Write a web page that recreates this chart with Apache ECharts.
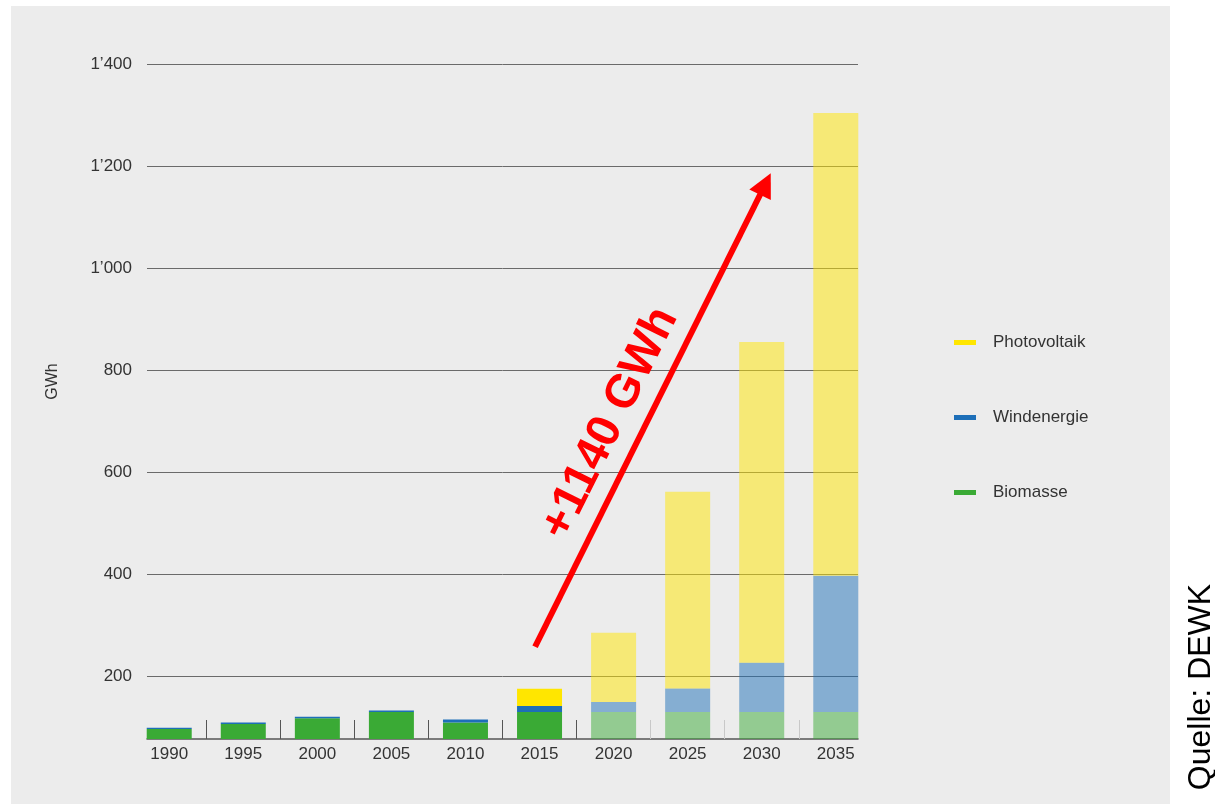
<!DOCTYPE html>
<html><head><meta charset="utf-8">
<script src="https://cdn.jsdelivr.net/npm/echarts@6/dist/echarts.min.js"></script>
<style>html,body{margin:0;padding:0;background:#fff}#c{width:1215px;height:804px}</style>
</head><body><div id="c"></div>
<script>
// ---- data ----
const years = ['1990','1995','2000','2005','2010','2015','2020','2025','2030','2035'];
const biomasse = [97.6, 107.4, 118.4, 130.9, 110.5, 130.9, 130.8, 130.8, 130.8, 130.8];
const windenergie = [2.6, 3.1, 3.3, 3.1, 5.9, 11.7, 19.6, 46.2, 96.4, 267];
const photovoltaik = [0, 0, 0, 0, 0, 33.9, 135.6, 385, 628.5, 906];
const yTicks = [200, 400, 600, 800, 1000, 1200, 1400];
const projectionStart = 6;               // first projected category index (drawn paler)
const arrowFrom = [4.94, 258.7];         // annotation arrow in data coordinates
const arrowTo = [8.05, 1165];
const arrowLabel = '+1140 GWh';
const sourceText = 'Quelle: DEWK';

const FONT = "'Liberation Sans', Arial, Helvetica, sans-serif";
const chart = echarts.init(document.getElementById('c'), null, {renderer: 'canvas'});

// value first (dimension 0 is the stacked one), category index second
function toData(vals) {
  return vals.map((v, i) => (i >= projectionStart
    ? {value: [v, i], itemStyle: {opacity: 0.5}}
    : {value: [v, i]}));
}
function fmtY(v) {
  if (v >= 1000) return Math.floor(v / 1000) + '\u2019' + String(v % 1000).padStart(3, '0');
  return String(v);
}
const labelIdx = years.map((_, i) => i);
const boundaries = years.slice(1).map((_, i) => i + 0.5);
const darkBounds = boundaries.filter(b => b < projectionStart);
const lightBounds = boundaries.filter(b => b > projectionStart);

function barSeries(name, color, vals) {
  return {name: name, type: 'bar', stack: 'total', barWidth: 45,
          encode: {x: 1, y: 0},
          itemStyle: {color: color}, emphasis: {disabled: true}, data: toData(vals)};
}

const option = {
  animation: false,
  backgroundColor: '#ffffff',
  textStyle: {fontFamily: FONT},
  grid: {left: 147, right: 357, top: 64, bottom: 65, containLabel: false},
  legend: {
    data: ['Photovoltaik', 'Windenergie', 'Biomasse'],
    orient: 'vertical', left: 949, top: 329,
    itemWidth: 22, itemHeight: 5, itemGap: 58, icon: 'rect',
    selectedMode: false,
    textStyle: {fontSize: 17, color: '#333', fontFamily: FONT, padding: [0, 0, 0, 12]}
  },
  xAxis: [{
    type: 'value', min: -0.3, max: 9.3, position: 'bottom',
    axisLine: {show: true, onZero: false, lineStyle: {color: '#555', width: 1.5}},
    axisTick: {show: true, inside: true, length: 19, customValues: darkBounds, lineStyle: {color: '#555', width: 1}},
    axisLabel: {customValues: labelIdx, formatter: v => years[Math.round(v)], color: '#333', fontSize: 17, margin: 7, fontFamily: FONT},
    splitLine: {show: false}
  }, {
    type: 'value', min: -0.3, max: 9.3, position: 'bottom',
    axisLine: {show: false},
    axisTick: {show: true, inside: true, length: 19, customValues: lightBounds, lineStyle: {color: '#c8c8c8', width: 1}},
    axisLabel: {show: false},
    splitLine: {show: false}
  }],
  yAxis: {
    type: 'value', min: 78, max: 1400,
    axisLine: {show: false},
    axisTick: {show: false, customValues: yTicks},
    axisLabel: {customValues: yTicks, formatter: fmtY, color: '#333', fontSize: 17, margin: 15, fontFamily: FONT},
    splitLine: {show: true, lineStyle: {color: '#6a6a6a', width: 1}},
    name: 'GWh', nameLocation: 'middle', nameRotate: 90, nameGap: 86,
    nameTextStyle: {color: '#333', fontSize: 16, fontFamily: FONT, padding: [0, 0, 0, 40]}
  },
  graphic: [
    {type: 'rect', z: -100, silent: true, shape: {x: 11, y: 6, width: 1159, height: 798}, style: {fill: '#ececec'}},
    {type: 'text', x: 1201, y: 687, rotation: Math.PI / 2, silent: true,
     style: {text: sourceText, font: '32px ' + FONT, fill: '#000', align: 'center', verticalAlign: 'middle'}}
  ],
  series: [
    barSeries('Biomasse', '#3aaa35', biomasse),
    barSeries('Windenergie', '#1d6fb8', windenergie),
    barSeries('Photovoltaik', '#ffe600', photovoltaik),
    {name: 'arrow', type: 'line', data: [], silent: true,
     markLine: {
       silent: true, symbol: ['none', 'triangle'], symbolSize: [24, 24],
       lineStyle: {color: '#ff0000', width: 6, type: 'solid'},
       emphasis: {disabled: true},
       label: {show: true, position: 'insideMiddleTop', formatter: arrowLabel, color: '#ff0000',
               fontSize: 47, fontWeight: 'bold', fontFamily: FONT, distance: 9, padding: [0, 50, 0, 0]},
       data: [[{coord: arrowFrom}, {coord: arrowTo}]]
     }}
  ]
};
chart.setOption(option);
</script>
</body></html>
